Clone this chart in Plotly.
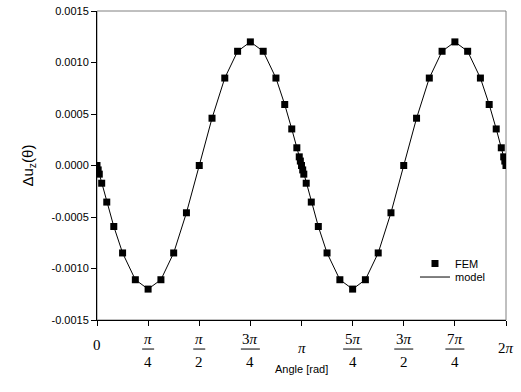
import math
import plotly.graph_objects as go

PI = math.pi

# Angle [rad] of each FEM sample
theta = [0.000, 0.018, 0.035, 0.072, 0.150, 0.258, 0.393, 0.589, 0.785, 0.982,
         1.178, 1.374, 1.571, 1.767, 1.963, 2.160, 2.356, 2.553, 2.749, 2.884,
         2.992, 3.070, 3.107, 3.124, 3.142, 3.160, 3.177, 3.214, 3.292, 3.400,
         3.534, 3.731, 3.927, 4.123, 4.320, 4.516, 4.712, 4.909, 5.105, 5.301,
         5.498, 5.694, 5.890, 6.025, 6.133, 6.211, 6.248, 6.265, 6.283]

# Delta u_z values (FEM and model coincide)
fem = [0.0, -0.000043, -0.000084, -0.000172, -0.000355, -0.000592, -0.000849, -0.001109, -0.001200, -0.001109,
       -0.000849, -0.000459, 0.0, 0.000459, 0.000849, 0.001109, 0.001200, 0.001109, 0.000849, 0.000592,
       0.000355, 0.000172, 0.000084, 0.000043, 0.0, -0.000043, -0.000084, -0.000172, -0.000355, -0.000592,
       -0.000849, -0.001109, -0.001200, -0.001109, -0.000849, -0.000459, 0.0, 0.000459, 0.000849, 0.001109,
       0.001200, 0.001109, 0.000849, 0.000592, 0.000355, 0.000172, 0.000084, 0.000043, 0.0]
model = fem

x_tick_vals = [0, PI / 4, PI / 2, 3 * PI / 4, PI, 5 * PI / 4, 3 * PI / 2, 7 * PI / 4, 2 * PI]
x_tick_num = ["0", "<i>π</i>", "<i>π</i>", "3<i>π</i>", "<i>π</i>", "5<i>π</i>", "3<i>π</i>", "7<i>π</i>", "2<i>π</i>"]
x_tick_den = ["", "4", "2", "4", "", "4", "2", "4", ""]

y_tick_vals = [-0.0015, -0.0010, -0.0005, 0.0, 0.0005, 0.0010, 0.0015]
y_tick_text = ["-0.0015", "-0.0010", "-0.0005", "0.0000", "0.0005", "0.0010", "0.0015"]

SANS = "Liberation Sans, Arial, sans-serif"
SERIF = "Liberation Serif, Times New Roman, serif"

fig = go.Figure()
fig.add_trace(go.Scatter(x=theta, y=fem, mode="markers", name="FEM", legend="legend",
                         marker=dict(symbol="square", size=7, color="black")))
fig.add_trace(go.Scatter(x=theta, y=model, mode="lines", name="model", legend="legend2",
                         line=dict(color="black", width=1)))

annotations = []
shapes = [dict(type="rect", xref="paper", yref="paper", x0=0, x1=1, y0=0, y1=1,
               line=dict(color="#808080", width=1), layer="below")]
for v, num, den in zip(x_tick_vals, x_tick_num, x_tick_den):
    if den:
        annotations.append(dict(x=v, y=-0.062, xref="x", yref="paper", text=num, showarrow=False,
                                font=dict(family=SERIF, size=15, color="black"), yanchor="middle"))
        annotations.append(dict(x=v, y=-0.135, xref="x", yref="paper", text=den, showarrow=False,
                                font=dict(family=SERIF, size=15, color="black"), yanchor="middle"))
        w = 9.5 if len(num) > 8 else 6
        shapes.append(dict(type="line", xref="x", yref="paper", xsizemode="pixel", xanchor=v,
                           x0=-w, x1=w, y0=-0.094, y1=-0.094, line=dict(color="black", width=1)))
    else:
        annotations.append(dict(x=v, y=-0.090 if v > 0 else -0.08, xref="x", yref="paper", text=num,
                                showarrow=False, font=dict(family=SERIF, size=15, color="black"),
                                yanchor="middle"))

annotations.append(dict(x=0.5, y=-0.158, xref="paper", yref="paper", text="Angle [rad]", showarrow=False,
                        font=dict(family=SANS, size=11, color="black"), yanchor="middle"))
annotations.append(dict(x=-0.1686, y=0.5, xref="paper", yref="paper", text="Δu<sub>z</sub>(θ)",
                        showarrow=False, textangle=-90, xanchor="center", yanchor="middle",
                        font=dict(family=SANS, size=15, color="black")))

leg_common = dict(xanchor="left", yanchor="top", bgcolor="rgba(0,0,0,0)",
                  font=dict(family=SANS, size=11, color="black"))

fig.update_layout(
    width=521, height=392,
    margin=dict(l=97, r=15, t=11, b=72, autoexpand=False),
    paper_bgcolor="white", plot_bgcolor="white",
    font=dict(family=SANS, size=11, color="black"),
    xaxis=dict(range=[0, 2 * PI], tickvals=x_tick_vals, showticklabels=False, automargin=False,
               ticks="outside", ticklen=5, tickcolor="black", showline=True, linecolor="black",
               linewidth=1, showgrid=False, zeroline=False),
    yaxis=dict(range=[-0.0015, 0.0015], tickvals=y_tick_vals, ticktext=y_tick_text, automargin=False,
               ticks="outside", ticklen=5, tickcolor="black", showline=True, linecolor="black",
               linewidth=1, showgrid=False, zeroline=False,
               tickfont=dict(family=SANS, size=11, color="black")),
    legend=dict(x=0.7775, y=0.2298, **leg_common),
    legend2=dict(x=0.7775, y=0.186, **leg_common),
    showlegend=True,
    annotations=annotations,
    shapes=shapes,
)

fig.write_html("out.html", config={"displayModeBar": False},
               post_script="document.body.style.margin='0px';")
